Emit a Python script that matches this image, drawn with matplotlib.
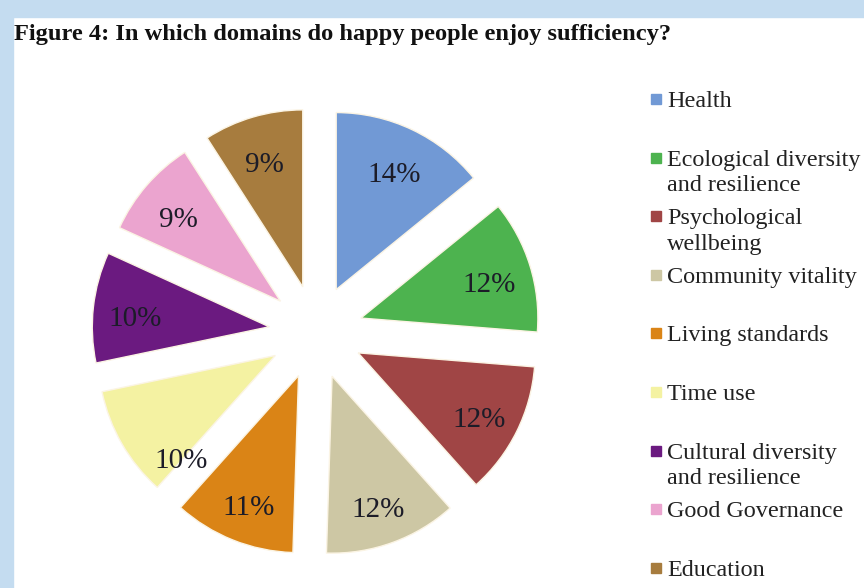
import numpy as np
import matplotlib.pyplot as plt
from matplotlib.patches import Rectangle

domains = [
    'Health',
    'Ecological diversity\nand resilience',
    'Psychological\nwellbeing',
    'Community vitality',
    'Living standards',
    'Time use',
    'Cultural diversity\nand resilience',
    'Good Governance',
    'Education',
]
shares = [14, 12, 12, 12, 11, 10, 10, 9, 9]
colors = ['#7199d5', '#4db34f', '#a04545', '#cdc7a4', '#da8416',
          '#f4f2a2', '#6b1a80', '#eba4cf', '#a77c3e']

W, H = 864, 588
fig = plt.figure(figsize=(W / 100, H / 100), dpi=100)
fig.patch.set_facecolor('white')

# light blue frame on the top and left
fig.patches.append(Rectangle((0, 0), 13 / W, 1, transform=fig.transFigure,
                             color='#c4dcf0', zorder=0))
fig.patches.append(Rectangle((0, 1 - 17 / H), 1, 17 / H, transform=fig.transFigure,
                             color='#c4dcf0', zorder=0))

fig.text(14 / W, 1 - 40 / H, 'Figure 4: In which domains do happy people enjoy sufficiency?',
         fontsize=17.6, fontweight='bold', family='Liberation Serif',
         ha='left', va='baseline', color='#111111')

# pie: centre and radius in pixels
cx, cy, R, gap = 316, 332, 177, 47
half = 240
ax = fig.add_axes([(cx - half) / W, (H - cy - half) / H, 2 * half / W, 2 * half / H])
total = sum(shares)
off = gap / R
wedges, _, pcts = ax.pie(
    shares, colors=colors, startangle=90, counterclock=False,
    explode=[off] * len(shares), radius=1,
    autopct=lambda p: f'{round(p * total / 100):.0f}%', pctdistance=0.76,
    wedgeprops=dict(edgecolor='#fbf4e4', linewidth=1),
    textprops=dict(fontsize=21, family='Liberation Serif', color='#1c1c28'))

# labels sit a little low in each slice
for t in pcts:
    x, y = t.get_position()
    t.set_position((x, y - 0.04))

# time use label is pushed onto the slice's lower edge
w = wedges[5]
mid = np.deg2rad((w.theta1 + w.theta2) / 2)
ang = np.deg2rad(w.theta2)
pcts[5].set_position((off * np.cos(mid) + 0.8 * np.cos(ang),
                      off * np.sin(mid) + 0.8 * np.sin(ang)))

lim = half / R
ax.set_xlim(-lim, lim)
ax.set_ylim(-lim, lim)
ax.axis('off')

# legend entries, evenly spaced
y0, step = 100, 58.6
for i, (name, col) in enumerate(zip(domains, colors)):
    y = y0 + i * step
    fig.patches.append(Rectangle((651 / W, 1 - (y + 4) / H), 10 / W, 10 / H,
                                 transform=fig.transFigure, color=col))
    fig.text(667 / W, 1 - (y - 9) / H, name, fontsize=17.4, family='Liberation Serif',
             ha='left', va='top', color='#222222', linespacing=1.3)

fig.savefig('out.png', dpi=100)
